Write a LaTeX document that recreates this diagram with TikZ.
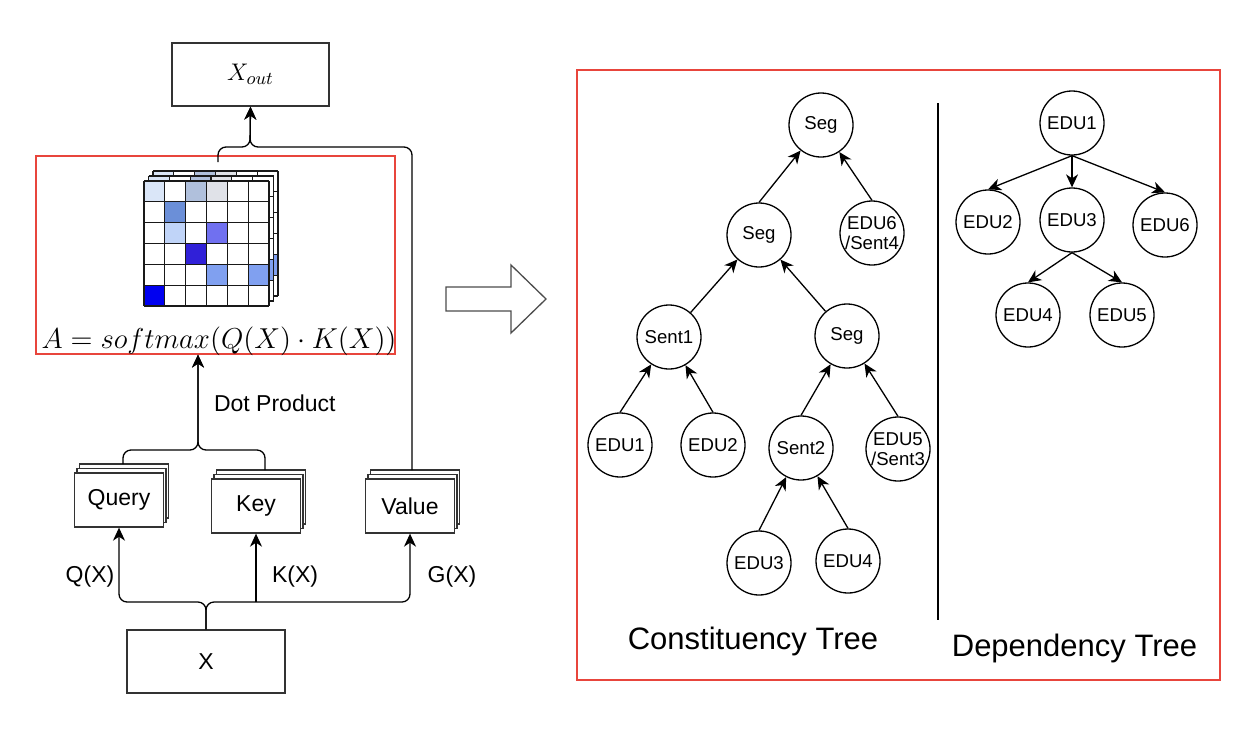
\documentclass[tikz,border=0pt]{standalone}
\usepackage{fontspec}
\setmainfont{Liberation Sans}
\usetikzlibrary{arrows.meta}
\definecolor{boxred}{HTML}{E8453C}
\definecolor{mA}{HTML}{DAE6F8}
\definecolor{mB}{HTML}{B0C0DC}
\definecolor{mC}{HTML}{E0E2E8}
\definecolor{mD}{HTML}{6B8FD8}
\definecolor{mE}{HTML}{C0D4F8}
\definecolor{mF}{HTML}{7070F0}
\definecolor{mG}{HTML}{3020D8}
\definecolor{mH}{HTML}{80A0F0}
\definecolor{mI}{HTML}{0000F0}

\begin{document}
\begin{tikzpicture}[
    x=0.5pt, y=-0.5pt,
    line/.style={line width=0.65pt, draw=black},
    arrow/.style={line, -{Stealth[length=6.5pt, width=6pt, inset=2pt]}},
    box/.style={
        rectangle, draw=black!80, line width=0.65pt, fill=white,
        inner sep=0pt, font=\fontsize{11.5}{13}\selectfont,
    },
    qkv/.style={box, minimum width=44.5pt, minimum height=27pt},
    redbox/.style={rectangle, draw=boxred, line width=0.6pt, inner sep=0pt},
    tnode/.style={
        circle, draw=black, line width=0.65pt, fill=white,
        minimum size=32pt, inner sep=0pt, align=center,
        font=\fontsize{9.3}{10}\selectfont,
    },
    lbl/.style={font=\fontsize{11.5}{13}\selectfont},
    title/.style={font=\fontsize{15.5}{18}\selectfont},
    cell/.style={line width=0.65pt, draw=black!90},
]
\useasboundingbox (0,0) rectangle (1256,734);

% ATTENTION PART
\node[box, minimum width=78.5pt, minimum height=31.5pt, font=\fontsize{13}{15}\selectfont] (xout) at (250.5, 74.5) {$X_{out}$};
\node[redbox, minimum width=179.5pt, minimum height=99pt] (attn) at (215.5, 255) {};

% attention map, three stacked layers
\foreach \l in {2,1,0} {
  \begin{scope}[shift={(\l*4.5,-\l*5)}]
    \fill[white] (144,181) rectangle (269,306);
    \foreach \r/\c/\col in {0/0/mA, 0/2/mB, 0/3/mC, 1/1/mD, 2/1/mE, 2/3/mF, 3/2/mG, 4/3/mH, 4/5/mH, 5/0/mI}
      \fill[\col] (144+\c*125/6, 181+\r*125/6) rectangle ++(125/6, 125/6);
    \foreach \i in {0,...,6} {
      \draw[cell] (144+\i*125/6, 181) -- ++(0, 125);
      \draw[cell] (144, 181+\i*125/6) -- ++(125, 0);
    }
  \end{scope}
}
\node[font=\fontsize{14}{16}\selectfont] (formula) at (219, 341) {$A = softmax(Q(X)\cdot K(X))$};

% QUERY / KEY / VALUE
\foreach \n/\x/\y/\t in {query/119/500/Query, key/256/506/Key, value/410/506/Value} {
  \foreach \k in {2,1}
    \node[qkv] at (\x+\k*2.5, \y-\k*4.5) {};
  \node[qkv] (\n) at (\x, \y) {\t};
}
\node[box, minimum width=79pt, minimum height=31.5pt] (x) at (206, 661.5) {X};

\node[lbl] (qlbl) at (90, 577) {Q(X)};
\node[lbl] (klbl) at (295, 577) {K(X)};
\node[lbl] (glbl) at (452, 577) {G(X)};
\node[lbl, anchor=west] (dotlbl) at (207, 403) {Dot Product};

% connectors
\coordinate (xjoin) at (206, 602);
\draw[arrow, rounded corners=4pt] (x.north) -- (xjoin) -| (query.south);
\draw[arrow, rounded corners=4pt] (x.north) -- (xjoin) -| (value.south);
\draw[arrow] (xjoin -| key.south) -- (key.south);

\coordinate (qtop) at (123, 464);
\coordinate (ktop) at (265, 470);
\coordinate (dotjoin) at (198, 450);
\draw[arrow, rounded corners=4pt] (qtop) |- (dotjoin) -- (dotjoin |- attn.south);
\draw[arrow, rounded corners=4pt] (ktop) |- (dotjoin) -- (dotjoin |- attn.south);

\coordinate (attntop) at (218, 162);
\coordinate (vtop) at (412, 470);
\coordinate (outjoin) at (250, 147);
\draw[arrow, rounded corners=4pt] (attntop) |- (outjoin) -- (xout.south);
\draw[arrow, rounded corners=4pt] (vtop) |- (outjoin) -- (xout.south);

% BIG ARROW
\draw[line width=0.65pt, draw=black!70] (446,287) -- (511,287) -- (511,265) -- (546,299)
    -- (511,333) -- (511,311) -- (446,311) -- cycle;

% TREES
\node[redbox, minimum width=321.5pt, minimum height=305pt] (trees) at (898.5, 375) {};
\draw[line] (938, 103) -- (938, 620);

% constituency tree
\node[tnode] (seg1) at (821, 125) {Seg};
\node[tnode] (seg2) at (759, 235) {Seg};
\node[tnode] (ce6) at (872, 233) {EDU6\\/Sent4};
\node[tnode] (sent1) at (669, 337) {Sent1};
\node[tnode] (seg3) at (847, 336) {Seg};
\node[tnode] (ce1) at (620, 445) {EDU1};
\node[tnode] (ce2) at (713, 445) {EDU2};
\node[tnode] (sent2) at (801, 448) {Sent2};
\node[tnode] (ce5) at (898, 449) {EDU5\\/Sent3};
\node[tnode] (ce3) at (759, 563) {EDU3};
\node[tnode] (ce4) at (848, 561) {EDU4};

\draw[arrow] (seg2.north) -- (seg1);
\draw[arrow] (ce6.north) -- (seg1);
\draw[arrow] (sent1) -- (seg2);
\draw[arrow] (seg3) -- (seg2);
\draw[arrow] (ce1.north) -- (sent1);
\draw[arrow] (ce2.north) -- (sent1);
\draw[arrow] (sent2.north) -- (seg3);
\draw[arrow] (ce5.north) -- (seg3);
\draw[arrow] (ce3.north) -- (sent2);
\draw[arrow] (ce4.north) -- (sent2);

\node[title] (ctitle) at (753, 641) {Constituency Tree};

% dependency tree
\node[tnode] (de1) at (1072, 123) {EDU1};
\node[tnode] (de2) at (988, 222) {EDU2};
\node[tnode] (de3) at (1072, 220) {EDU3};
\node[tnode] (de6) at (1165, 225) {EDU6};
\node[tnode] (de4) at (1028, 315) {EDU4};
\node[tnode] (de5) at (1122, 315) {EDU5};

\draw[arrow] (de1.south) -- (de2.north);
\draw[arrow] (de1.south) -- (de3.north);
\draw[arrow] (de1.south) -- (de6.north);
\draw[arrow] (de3.south) -- (de4.north);
\draw[arrow] (de3.south) -- (de5.north);

\node[title] (dtitle) at (1074.5, 648) {Dependency Tree};

\end{tikzpicture}
\end{document}
